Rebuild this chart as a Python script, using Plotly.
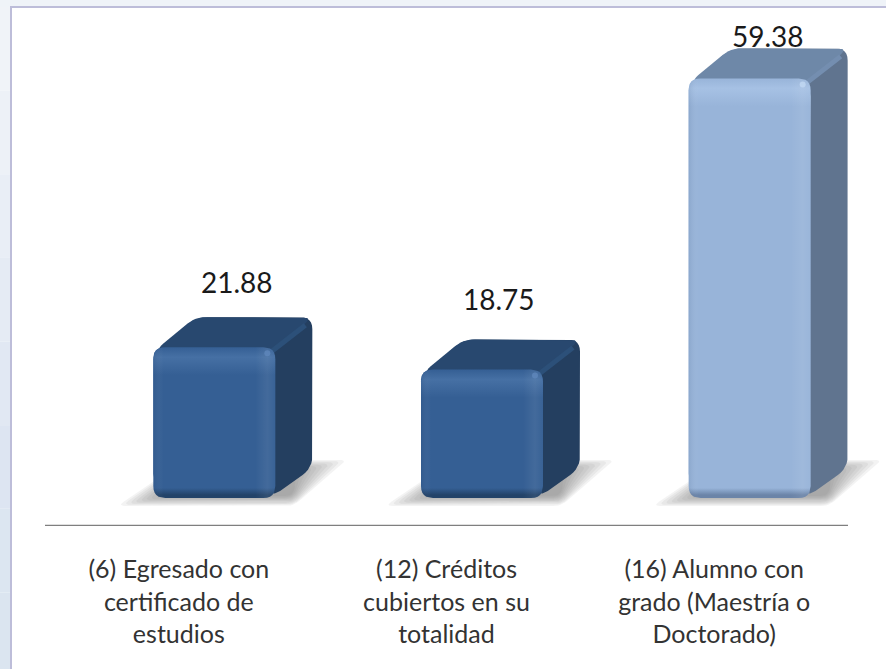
import plotly.graph_objects as go

CATEGORIES = ["(6) Egresado con<br>certificado de<br>estudios",
              "(12) Créditos<br>cubiertos en su<br>totalidad",
              "(16) Alumno con<br>grado (Maestría o<br>Doctorado)"]
VALUES = [21.88, 18.75, 59.38]
LABELS = ["21.88", "18.75", "59.38"]

FRONT = ["#355f94", "#355f94", "#98b4d9"]
FRONT_LIGHT = ["#4670a4", "#4670a4", "#a6c1e4"]
FRONT_DARK = ["#234369", "#234369", "#6b84a8"]
SIDE = ["#243f60", "#243f60", "#60748f"]
TOP = ["#28486f", "#28486f", "#6e88a8"]
RIDGE = ["#2c5079", "#2c5079", "#748eb0"]
GLINT = ["#5f87bb", "#5f87bb", "#c2d8f2"]

W, H = 886, 669
L, R, T, B = 45, 0, 8, 143
AXIS_END = 848                  # the floor line stops here; the plot area runs on for the shadow
SX = (AXIS_END - L) / 3.0       # px per category
X_MAX = 2.5 + (W - AXIS_END) / SX
Y_MIN, Y_MAX = -3.07, 69.2
SY = (H - T - B) / (Y_MAX - Y_MIN)  # px per value unit
FLOOR = 0.84
SHIFT = 35.5 / SX
BAR_W = 122 / SX
DEPTH_X, DEPTH_Y = 37, 30


def rounded(corners, r, n=6):
    """corners in pixels-scale coords; returns data coords of a rounded polygon."""
    xs, ys = [], []
    m = len(corners)
    for k in range(m):
        p0, p1, p2 = corners[k - 1], corners[k], corners[(k + 1) % m]
        def toward(a, b):
            d = ((b[0] - a[0]) ** 2 + (b[1] - a[1]) ** 2) ** 0.5
            f = min(r / d, 0.5)
            return (a[0] + (b[0] - a[0]) * f, a[1] + (b[1] - a[1]) * f)
        a, b = toward(p1, p0), toward(p1, p2)
        for j in range(n + 1):
            t = j / n
            xs.append(((1 - t) ** 2 * a[0] + 2 * t * (1 - t) * p1[0] + t ** 2 * b[0]) / SX)
            ys.append(((1 - t) ** 2 * a[1] + 2 * t * (1 - t) * p1[1] + t ** 2 * b[1]) / SY)
    xs.append(xs[0]); ys.append(ys[0])
    return xs, ys


fig = go.Figure()


def poly(xs, ys, color=None, grad=None):
    kw = dict(x=xs, y=ys, mode="lines", line=dict(width=0), fill="toself",
              hoverinfo="skip", showlegend=False, cliponaxis=False)
    if grad:
        kw["fillgradient"] = grad
        kw["fillcolor"] = "rgba(0,0,0,0)"
    else:
        kw["fillcolor"] = color
    fig.add_trace(go.Scatter(**kw))


# core bars, from the values
fig.add_trace(go.Bar(
    x=[0, 1, 2], y=[v - FLOOR - 2 for v in VALUES], base=FLOOR + 2,
    width=BAR_W, offset=SHIFT - BAR_W / 2,
    marker=dict(color=FRONT, line=dict(width=0)),
    hoverinfo="skip", showlegend=False))

for i, v in enumerate(VALUES):
    x0 = (i + SHIFT - BAR_W / 2) * SX
    x1 = (i + SHIFT + BAR_W / 2) * SX
    y0, y1 = FLOOR * SY, v * SY

    # floor shadow, soft edges from stacked translucent parallelograms
    for g in range(0, 20, 2):
        sh = [(x0 - 36 + g * 2.6, y0 - 8 + g * .55), (x1 + 18, y0 - 8 + g * .55),
              (x1 + 72 - g * 2.8, y0 + 38 - g * .6), (x0 + 32, y0 + 38 - g * .6)]
        xs, ys = rounded(sh, 8)
        poly(xs, ys, "rgba(120,120,120,0.085)")

    # side + top silhouette
    xs, ys = rounded([(x0 + 5, y1 - 3), (x0 + DEPTH_X + 5, y1 + DEPTH_Y),
                      (x1 + DEPTH_X, y1 + DEPTH_Y), (x1 + DEPTH_X, y0 + DEPTH_Y),
                      (x1 - 5, y0), (x1, y1 - 6)], 12)
    poly(xs, ys, SIDE[i])
    # top face
    xs, ys = rounded([(x0 + 2, y1 - 3), (x0 + DEPTH_X + 5, y1 + DEPTH_Y),
                      (x1 + DEPTH_X, y1 + DEPTH_Y), (x1 - 2, y1 - 4)], 10)
    poly(xs, ys, TOP[i])
    # ridge between top and side
    fig.add_trace(go.Scatter(
        x=[(x1 - 6) / SX, (x1 + DEPTH_X - 7) / SX], y=[(y1 - 6) / SY, (y1 + DEPTH_Y - 8) / SY],
        mode="lines", line=dict(color=RIDGE[i], width=5), hoverinfo="skip", showlegend=False))

    # front face with vertical bevel
    px_h = y1 - y0
    scale = [[0, FRONT_DARK[i]], [3 / px_h, FRONT_DARK[i]], [10 / px_h, FRONT[i]],
             [1 - 28 / px_h, FRONT[i]], [1 - 10 / px_h, FRONT_LIGHT[i]], [1, FRONT[i]]]
    xs, ys = rounded([(x0, y0), (x0, y1), (x1, y1), (x1, y0)], 12)
    poly(xs, ys, grad=dict(type="vertical", colorscale=scale,
                           start=FLOOR, stop=v))
    # side bevels
    px_w = x1 - x0
    scale_h = [[0, "rgba(20,50,90,0.10)"], [10 / px_w, "rgba(255,255,255,0)"],
               [1 - 20 / px_w, "rgba(255,255,255,0)"], [1 - 8 / px_w, "rgba(255,255,255,0.07)"],
               [1, "rgba(255,255,255,0.02)"]]
    poly(xs, ys, grad=dict(type="horizontal", colorscale=scale_h,
                           start=x0 / SX, stop=x1 / SX))
    # corner glint
    fig.add_trace(go.Scatter(
        x=[(x1 - 8) / SX], y=[(y1 - 6) / SY], mode="markers",
        marker=dict(color=GLINT[i], size=6, line=dict(width=0), opacity=0.8),
        hoverinfo="skip", showlegend=False))

# value labels
LABEL_DX = [0.015, -0.005, 0.0]
LABEL_SHIFT = [35, 41, 42]
for i, v in enumerate(VALUES):
    fig.add_annotation(x=i + SHIFT + DEPTH_X / (2 * SX) + LABEL_DX[i], y=v, text=LABELS[i], showarrow=False,
                       yshift=LABEL_SHIFT[i] + (DEPTH_Y if i < 2 else 0),
                       font=dict(family="Lato, 'Open Sans', sans-serif", size=28, color="#1a1a1a"))

# window frame
shapes = []
def px_rect(a, b, c, d, color):
    shapes.append(dict(type="rect", xref="paper", yref="paper", layer="below", line=dict(width=0),
                       fillcolor=color,
                       x0=(a - L) / (W - L - R), x1=(c - L) / (W - L - R),
                       y0=1 - (d - T) / (H - T - B), y1=1 - (b - T) / (H - T - B)))

px_rect(0, 0, W, 7, "#eff3f8")
STRIP = ["#f0f3f8", "#edf1f7", "#e9eef6", "#e5ebf4", "#e1e8f3", "#dde5f2", "#dce6f1", "#dbe5f0"]
for k, col in enumerate(STRIP):
    px_rect(0, 7 + k * H / len(STRIP), 10, 7 + (k + 1) * H / len(STRIP), col)
px_rect(10, 6, W, 8, "#bdbdd9")
px_rect(10, 6, 12, H, "#bdbdd9")
# floor line
shapes.append(dict(type="line", xref="x", yref="y", x0=-0.5, x1=2.5, y0=Y_MIN + 0.07, y1=Y_MIN + 0.07,
                   line=dict(color="#7f7f7f", width=1.3)))

fig.update_layout(
    width=W, height=H, autosize=False,
    margin=dict(l=L, r=R, t=T, b=B, pad=0),
    paper_bgcolor="white", plot_bgcolor="rgba(0,0,0,0)",
    showlegend=False, shapes=shapes, barmode="overlay",
    barcornerradius=10,
    xaxis=dict(range=[-0.5, X_MAX], tickmode="array", tickvals=[0, 1, 2], ticktext=CATEGORIES,
               showgrid=False, zeroline=False, showline=False,
               ticks="", ticklabelstandoff=26, tickangle=0,
               tickfont=dict(family="Lato, 'Open Sans', sans-serif", size=25, color="#333333")),
    yaxis=dict(range=[Y_MIN, Y_MAX], visible=False),
)
fig.write_html("out.html", config={"displayModeBar": False},
               post_script="document.body.style.margin='0';document.body.style.overflow='hidden';")
